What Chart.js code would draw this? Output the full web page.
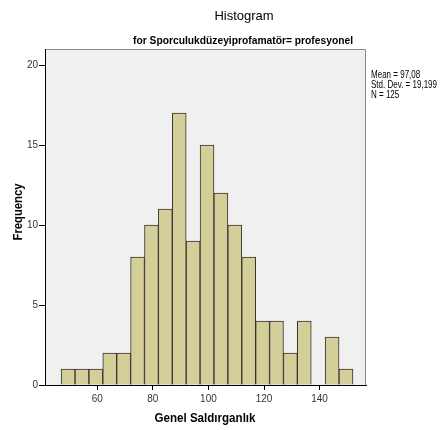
<!DOCTYPE html>
<html>
<head>
<meta charset="utf-8">
<script src="https://cdn.jsdelivr.net/npm/chart.js@4.4.1/dist/chart.umd.min.js"></script>
<style>
  html, body { margin: 0; padding: 0; background: #fff; }
  #wrap { width: 442px; height: 430px; }
</style>
</head>
<body>
<div id="wrap"><canvas id="hist" width="442" height="430"></canvas></div>
<script>
// bin centres (width 5) and counts
const binCenters = [49.5, 54.5, 59.5, 64.5, 69.5, 74.5, 79.5, 84.5, 89.5, 94.5, 99.5,
                    104.5, 109.5, 114.5, 119.5, 124.5, 129.5, 134.5, 139.5, 144.5, 149.5];
const counts = [1, 1, 1, 2, 2, 8, 10, 11, 17, 9, 15, 12, 10, 8, 4, 4, 2, 4, 0, 3, 1];
const xTicks = [60, 80, 100, 120, 140];
const yTicks = [0, 5, 10, 15, 20];
const statsLines = ['Mean = 97,08', 'Std. Dev. = 19,199', 'N = 125'];

const font = '"Liberation Sans", Arial, sans-serif';

// SPSS uses a narrow face, so squeeze text horizontally by sx
function narrowText(ctx, text, x, y, sx) {
    ctx.save();
    ctx.translate(x, y);
    ctx.scale(sx, 1);
    ctx.fillText(text, 0, 0);
    ctx.restore();
}

const frame = {
    id: 'frame',
    beforeDraw(chart) {
        const { ctx, chartArea: a } = chart;
        ctx.save();
        ctx.fillStyle = '#f0f0f0';
        ctx.fillRect(a.left, a.top, a.right - a.left, a.bottom - a.top);
        ctx.strokeStyle = '#8a8a8a';
        ctx.lineWidth = 1;
        ctx.beginPath();
        ctx.moveTo(a.left, a.top + 0.5);
        ctx.lineTo(a.right - 0.5, a.top + 0.5);
        ctx.lineTo(a.right - 0.5, a.bottom);
        ctx.stroke();
        ctx.restore();
    },
    afterDraw(chart) {
        const { ctx } = chart;
        ctx.save();
        ctx.fillStyle = '#000';
        ctx.textBaseline = 'alphabetic';
        ctx.textAlign = 'center';
        ctx.font = '13px ' + font;
        ctx.fillText('Histogram', 244, 20);

        ctx.font = 'bold 11px ' + font;
        let t = 'for Sporculukdüzeyiprofamatör= profesyonel';
        narrowText(ctx, t, 243, 44, 220 / ctx.measureText(t).width);

        ctx.font = 'bold 12px ' + font;
        t = 'Genel Saldırganlık';
        narrowText(ctx, t, 205, 422, 101 / ctx.measureText(t).width);

        ctx.save();
        ctx.translate(22, 212);
        ctx.rotate(-Math.PI / 2);
        t = 'Frequency';
        ctx.scale(57 / ctx.measureText(t).width, 1);
        ctx.fillText(t, 0, 0);
        ctx.restore();

        ctx.textAlign = 'left';
        ctx.font = '11px ' + font;
        const sx = 66 / ctx.measureText(statsLines[1]).width;
        statsLines.forEach((s, i) => narrowText(ctx, s, 371, 78 + i * 10, sx));
        ctx.restore();
    }
};

new Chart(document.getElementById('hist'), {
    type: 'bar',
    data: {
        datasets: [{
            data: binCenters.map((c, i) => ({ x: c, y: counts[i] || null })),
            backgroundColor: '#d4cf98',
            borderColor: '#333333',
            borderWidth: 1,
            barPercentage: 1,
            categoryPercentage: 1,
        }]
    },
    options: {
        responsive: false,
        animation: false,
        layout: { padding: { left: 0, top: 49, right: 76, bottom: 0 } },
        plugins: { legend: { display: false }, tooltip: { enabled: false } },
        scales: {
            x: {
                type: 'linear',
                min: 41.2,
                max: 156.7,
                offset: false,
                afterFit: s => { s.height = 45; },
                afterBuildTicks: s => { s.ticks = xTicks.map(v => ({ value: v })); },
                grid: { offset: false, drawOnChartArea: false, drawTicks: true, tickLength: 5, color: '#000' },
                border: { display: true, color: '#000', width: 1 },
                ticks: { color: '#333', font: { family: font, size: 10 }, padding: 3, maxRotation: 0, autoSkip: false },
            },
            y: {
                min: 0,
                max: 21,
                afterFit: s => { s.width = 45; },
                afterBuildTicks: s => { s.ticks = yTicks.map(v => ({ value: v })); },
                grid: { drawOnChartArea: false, drawTicks: true, tickLength: 6, color: '#000' },
                border: { display: true, color: '#000', width: 1 },
                ticks: { color: '#333', font: { family: font, size: 10 }, padding: 1, autoSkip: false },
            }
        }
    },
    plugins: [frame]
});
</script>
</body>
</html>
